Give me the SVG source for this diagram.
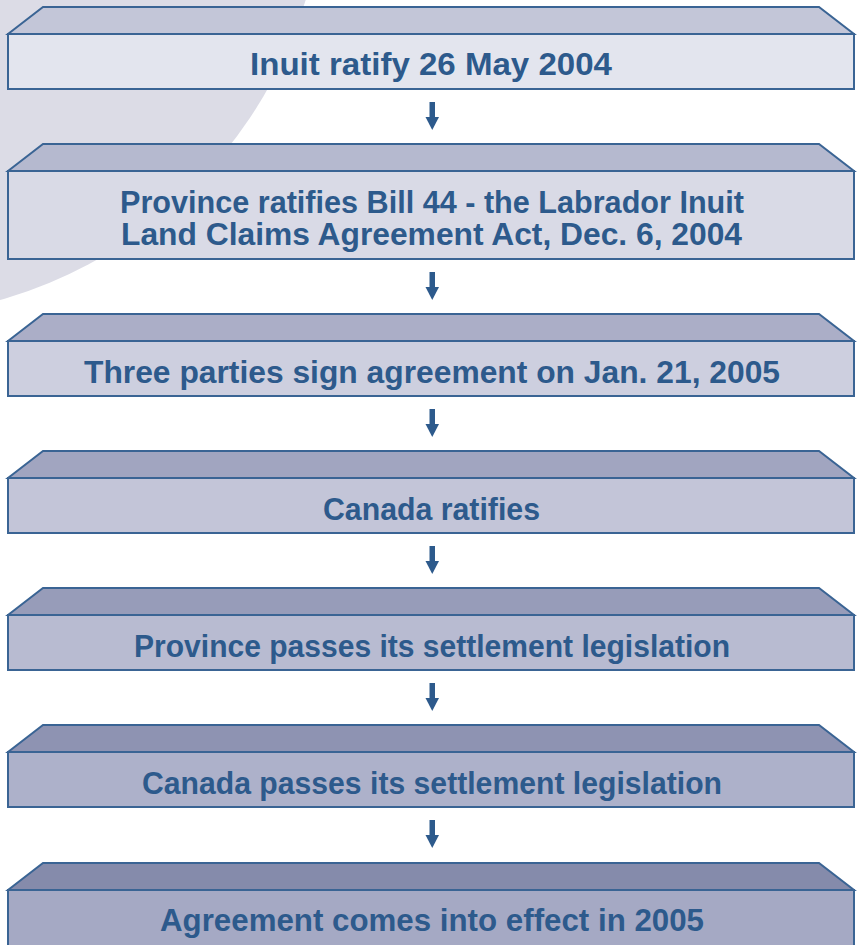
<svg xmlns="http://www.w3.org/2000/svg" width="859" height="945" viewBox="0 0 859 945">
<style>
.edge{stroke:#3a6494;stroke-width:2;stroke-linejoin:miter}
.lbl{font-family:"Liberation Sans",Arial,sans-serif;font-weight:bold;font-size:31px;fill:#2d5a8c;text-anchor:middle}
.arr{fill:#2d5a8c}
</style>
<defs>
<g id="arrow"><rect x="429.5" y="0" width="5.5" height="16"/><polygon points="425.5,15 439,15 432.25,28"/></g>
</defs>
<rect x="0" y="0" width="859" height="945" fill="#ffffff"/>
<circle cx="-122" cy="-130" r="447" fill="#dcdce6"/>
<g id="n1">
<polygon class="edge" points="8,34 43,7 819,7 854,34" fill="#c3c6d8"/>
<rect class="edge" x="8" y="34" width="846" height="55" fill="#e3e5ee"/>
<text class="lbl" x="431" y="75" textLength="362" lengthAdjust="spacingAndGlyphs">Inuit ratify 26 May 2004</text>
</g>
<g id="n2">
<polygon class="edge" points="8,171 43,144 819,144 854,171" fill="#b5b9cf"/>
<rect class="edge" x="8" y="171" width="846" height="88" fill="#d9dae6"/>
<text class="lbl" x="432" y="213" textLength="624" lengthAdjust="spacingAndGlyphs">Province ratifies Bill 44 - the Labrador Inuit</text>
<text class="lbl" x="431.5" y="245" textLength="621" lengthAdjust="spacingAndGlyphs">Land Claims Agreement Act, Dec. 6, 2004</text>
</g>
<g id="n3">
<polygon class="edge" points="8,341 43,314 819,314 854,341" fill="#abaec7"/>
<rect class="edge" x="8" y="341" width="846" height="55" fill="#cdcfdf"/>
<text class="lbl" x="432" y="383" textLength="696" lengthAdjust="spacingAndGlyphs">Three parties sign agreement on Jan. 21, 2005</text>
</g>
<g id="n4">
<polygon class="edge" points="8,478 43,451 819,451 854,478" fill="#a1a5c0"/>
<rect class="edge" x="8" y="478" width="846" height="55" fill="#c3c5d8"/>
<text class="lbl" x="431.5" y="520" textLength="217" lengthAdjust="spacingAndGlyphs">Canada ratifies</text>
</g>
<g id="n5">
<polygon class="edge" points="8,615 43,588 819,588 854,615" fill="#979cb9"/>
<rect class="edge" x="8" y="615" width="846" height="55" fill="#b8bbd1"/>
<text class="lbl" x="432" y="657" textLength="596" lengthAdjust="spacingAndGlyphs">Province passes its settlement legislation</text>
</g>
<g id="n6">
<polygon class="edge" points="8,752 43,725 819,725 854,752" fill="#8e93b2"/>
<rect class="edge" x="8" y="752" width="846" height="55" fill="#adb1ca"/>
<text class="lbl" x="432" y="794" textLength="580" lengthAdjust="spacingAndGlyphs">Canada passes its settlement legislation</text>
</g>
<g id="n7">
<polygon class="edge" points="8,890 43,863 819,863 854,890" fill="#858bab"/>
<rect class="edge" x="8" y="890" width="846" height="70" fill="#a5a9c4"/>
<text class="lbl" x="432" y="931" textLength="544" lengthAdjust="spacingAndGlyphs">Agreement comes into effect in 2005</text>
</g>
<g id="connectors" class="arr">
<use href="#arrow" y="102"/>
<use href="#arrow" y="272"/>
<use href="#arrow" y="409"/>
<use href="#arrow" y="546"/>
<use href="#arrow" y="683"/>
<use href="#arrow" y="820"/>
</g>
</svg>
